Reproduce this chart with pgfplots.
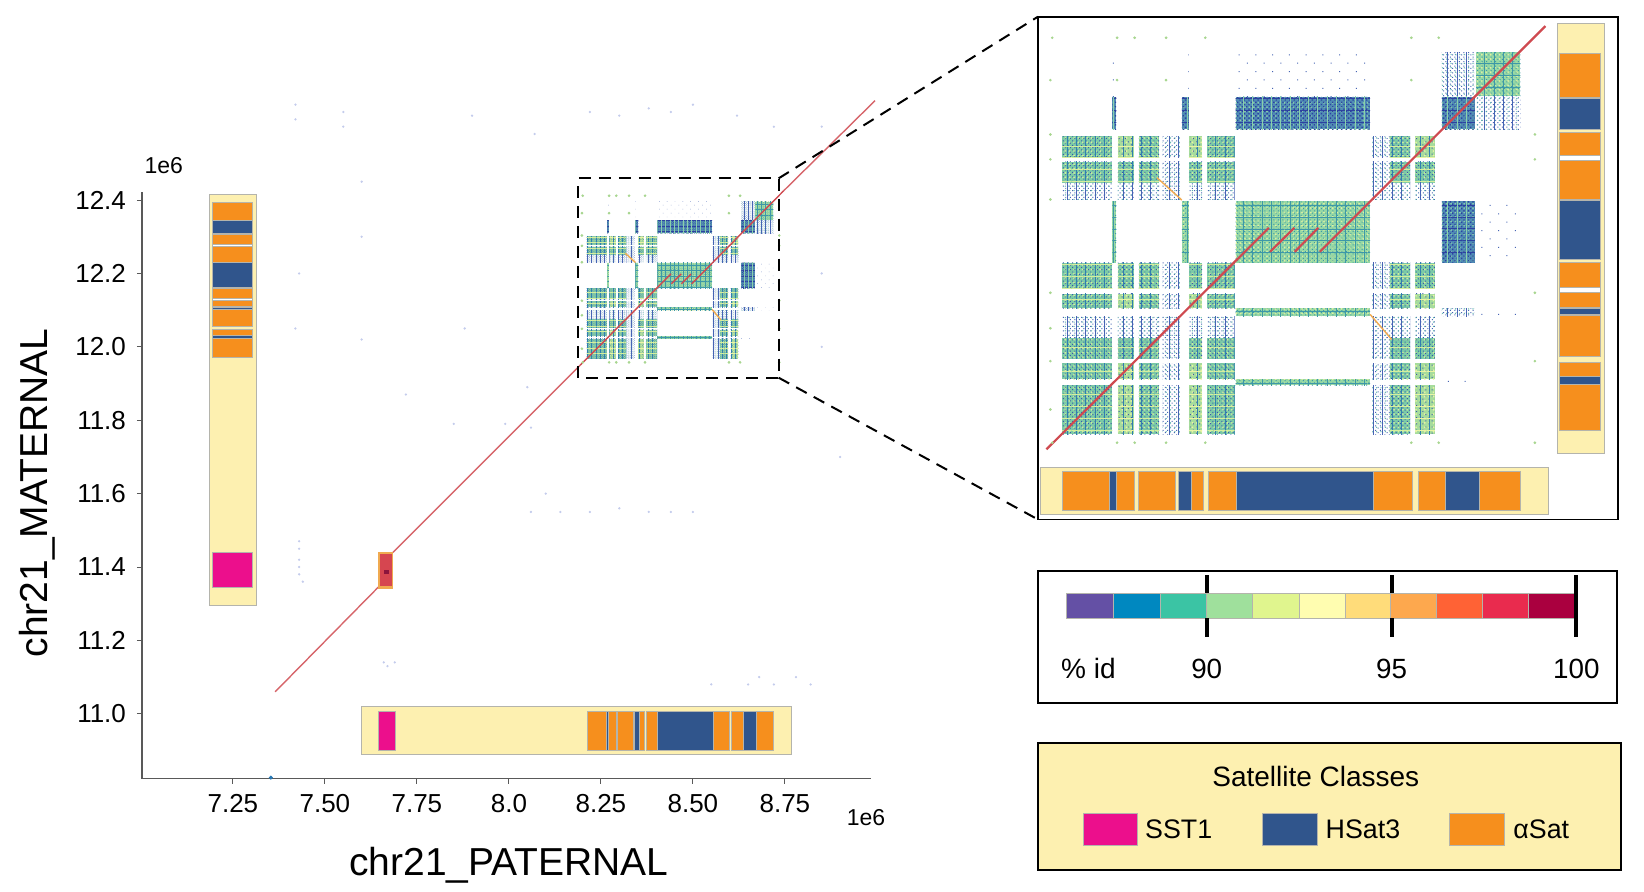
\documentclass[border=0pt]{standalone}
\usepackage{fontspec}
\setmainfont{Liberation Sans}
\usepackage{pgfplots}
\pgfplotsset{compat=1.18}
\usetikzlibrary{patterns.meta}
\definecolor{bgY}{HTML}{FDF0B0}
\definecolor{orC}{HTML}{F68F1D}
\definecolor{blC}{HTML}{30558C}
\definecolor{piC}{HTML}{EC0F8C}
\definecolor{edC}{HTML}{B4B4AC}
\definecolor{diagC}{HTML}{CF4A50}
\definecolor{faintC}{HTML}{C4CCEC}
\definecolor{hitC}{HTML}{A8D690}
\definecolor{offC}{HTML}{F0AA50}
\definecolor{tA}{HTML}{7CCBA6}\definecolor{tAl}{HTML}{D6EE9E}\definecolor{tAd}{HTML}{3A58AC}\definecolor{tAs}{HTML}{2F7FB0}
\definecolor{tY}{HTML}{A6DC9C}\definecolor{tYl}{HTML}{EAF4A4}
\definecolor{tH}{HTML}{4F8CB4}\definecolor{tHl}{HTML}{8AD0AC}\definecolor{tHd}{HTML}{2D41A0}
\definecolor{tG}{HTML}{96D8A4}\definecolor{tGl}{HTML}{E4F2A0}\definecolor{tGd}{HTML}{3D98A8}
\definecolor{tS}{HTML}{4664B4}\definecolor{tSg}{HTML}{5AB4AA}
\newcommand\fs[1]{\fontsize{#1}{#1}\selectfont}
\newcommand\Sg[5]{\addplot[fill=#5,draw=edC,line width=0.35pt] coordinates{(#1,#3)(#2,#3)(#2,#4)(#1,#4)} --cycle;}
\newcommand\T[5]{%
\addplot[#51] coordinates{(#1,#3)(#2,#3)(#2,#4)(#1,#4)} --cycle;%
\addplot[#52] coordinates{(#1,#3)(#2,#3)(#2,#4)(#1,#4)} --cycle;%
\addplot[#53] coordinates{(#1,#3)(#2,#3)(#2,#4)(#1,#4)} --cycle;%
\addplot[#54] coordinates{(#1,#3)(#2,#3)(#2,#4)(#1,#4)} --cycle;%
\addplot[#55] coordinates{(#1,#3)(#2,#3)(#2,#4)(#1,#4)} --cycle;}
\newcommand\setk[1]{%
\pgfmathsetmacro\dA{#1}\pgfmathsetmacro\dB{#1*1.37}\pgfmathsetmacro\dC{#1*0.30}\pgfmathsetmacro\dD{#1*0.22}%
\pgfmathsetmacro\dE{#1*2.9}\pgfmathsetmacro\dF{#1*3.7}\pgfmathsetmacro\dG{#1*0.22}\pgfmathsetmacro\dH{#1*0.32}%
\tikzset{
a1/.style={draw=none,fill=tA},
a2/.style={draw=none,pattern={Dots[distance=\dB pt,radius=\dC pt]},pattern color=tAl},
a3/.style={draw=none,pattern={Dots[distance=\dA pt,radius=\dD pt,angle=45]},pattern color=tAd},
a4/.style={draw=none,pattern={Lines[distance=\dE pt,angle=90,line width=\dG pt]},pattern color=tAs},
a5/.style={draw=none,pattern={Lines[distance=\dF pt,angle=0,line width=\dH pt]},pattern color=tAl},
y1/.style={draw=none,fill=tY},
y2/.style={draw=none,pattern={Dots[distance=\dB pt,radius=\dC pt]},pattern color=tYl},
y3/.style={draw=none,pattern={Dots[distance=\dB pt,radius=\dD pt,angle=45]},pattern color=tAd},
y4/.style={draw=none,pattern={Lines[distance=\dE pt,angle=90,line width=\dG pt]},pattern color=tAs},
y5/.style={draw=none,pattern={Lines[distance=\dF pt,angle=0,line width=\dH pt]},pattern color=tYl},
s1/.style={draw=none,fill=white},
s2/.style={draw=none,pattern={Dots[distance=\dA pt,radius=\dD pt,angle=45]},pattern color=tS},
s3/.style={draw=none,pattern={Dots[distance=\dB pt,radius=\dD pt]},pattern color=tSg},
s4/.style={draw=none,pattern={Lines[distance=\dE pt,angle=90,line width=\dG pt]},pattern color=tS},
s5/.style={draw=none,fill=none},
h1/.style={draw=none,fill=tH},
h2/.style={draw=none,pattern={Dots[distance=\dB pt,radius=\dC pt]},pattern color=tHl},
h3/.style={draw=none,pattern={Dots[distance=\dA pt,radius=\dC pt,angle=45]},pattern color=tHd},
h4/.style={draw=none,pattern={Lines[distance=\dF pt,angle=0,line width=\dH pt]},pattern color=tHd},
h5/.style={draw=none,pattern={Lines[distance=\dE pt,angle=90,line width=\dG pt]},pattern color=tHl},
g1/.style={draw=none,fill=tG},
g2/.style={draw=none,pattern={Dots[distance=\dB pt,radius=\dC pt]},pattern color=tGl},
g3/.style={draw=none,pattern={Dots[distance=\dA pt,radius=\dD pt,angle=45]},pattern color=tGd},
g4/.style={draw=none,pattern={Lines[distance=\dE pt,angle=90,line width=\dG pt]},pattern color=tGd},
g5/.style={draw=none,pattern={Lines[distance=\dF pt,angle=0,line width=\dG pt]},pattern color=tGd},
v1/.style={draw=none,fill=white},
v2/.style={draw=none,pattern={Dots[distance=\dF pt,radius=\dD pt,angle=45]},pattern color=tS},
v3/.style={draw=none,fill=none},
v4/.style={draw=none,fill=none},
v5/.style={draw=none,fill=none},
}}
\newcommand\Rw[4]{%
\T{8.2115}{8.2671}{#1}{#2}{#3}\T{8.2731}{8.2905}{#1}{#2}{#4}\T{8.2962}{8.3192}{#1}{#2}{#3}\T{8.3222}{8.3417}{#1}{#2}{s}%
\T{8.3517}{8.3665}{#1}{#2}{#4}\T{8.3721}{8.4025}{#1}{#2}{#3}\T{8.5544}{8.5740}{#1}{#2}{s}\T{8.5740}{8.5966}{#1}{#2}{#3}\T{8.6022}{8.6239}{#1}{#2}{#4}}
\newcommand\Blocks{%
\Rw{12.2780}{12.3015}{a}{y}\Rw{12.2492}{12.2727}{a}{a}\Rw{12.2305}{12.2492}{s}{s}\Rw{12.1303}{12.1595}{a}{a}\Rw{12.1083}{12.1247}{a}{y}%
\Rw{12.0754}{12.0997}{s}{s}\Rw{12.0518}{12.0754}{a}{a}\Rw{12.0287}{12.0466}{a}{y}\Rw{11.9670}{12.0219}{a}{y}%
\T{8.4034}{8.5523}{12.3456}{12.3957}{v}\T{8.4034}{8.5523}{12.3090}{12.3456}{h}\T{8.4034}{8.5523}{12.1595}{12.2286}{g}%
\T{8.4034}{8.5523}{12.0997}{12.1083}{g}\T{8.4034}{8.5523}{12.0219}{12.0287}{g}%
\T{8.2671}{8.2714}{12.3090}{12.3456}{h}\T{8.3439}{8.3517}{12.3090}{12.3456}{h}%
\T{8.2671}{8.2714}{12.1595}{12.2286}{g}\T{8.3439}{8.3517}{12.1595}{12.2286}{g}%
\T{8.2671}{8.2714}{12.3456}{12.3957}{v}\T{8.3439}{8.3517}{12.3456}{12.3957}{v}%
\T{8.6317}{8.6682}{12.3456}{12.3957}{s}\T{8.6317}{8.6682}{12.3090}{12.3456}{h}\T{8.6317}{8.6682}{12.1595}{12.2286}{h}%
\T{8.6317}{8.6682}{12.0997}{12.1083}{s}\T{8.6317}{8.6682}{12.0219}{12.0287}{v}%
\T{8.6695}{8.7185}{12.3464}{12.3957}{g}\T{8.6695}{8.7185}{12.3090}{12.3456}{s}\T{8.6695}{8.7185}{12.1595}{12.2286}{v}%
\T{8.6695}{8.7185}{12.0997}{12.1083}{v}%
\addplot[only marks,mark=*,mark size=0.45pt,color=hitC] coordinates{
(8.2006,12.4118)(8.2723,12.4118)(8.2918,12.4118)(8.3265,12.4118)(8.3699,12.4118)(8.5979,12.4118)(8.6282,12.4118)
(8.2006,11.9577)(8.2723,11.9577)(8.2918,11.9577)(8.3265,11.9577)(8.3699,11.9577)(8.5979,11.9577)(8.6282,11.9577)(8.7346,11.9577)
(8.1985,12.3643)(8.2723,12.3643)(8.3265,12.3643)(8.5979,12.3643)(8.7346,12.3034)(8.7346,12.2754)(8.7346,12.1258)(8.7346,12.0492)
(8.1985,12.3034)(8.1985,12.2754)(8.1985,12.2305)(8.1985,12.1258)(8.1985,12.0860)(8.1985,12.0492)(8.1985,11.9950)};
\addplot[line width=0.7pt,color=offC] coordinates{(8.3166,12.2548)(8.3439,12.2298)};
\addplot[line width=0.7pt,color=offC] coordinates{(8.5523,12.1016)(8.5761,12.0735)};
}
\newcommand\Diag[1]{%
\addplot[line width=#1,color=diagC] coordinates{(8.1941,11.9502)(8.4403,12.1987)};
\addplot[line width=#1,color=diagC] coordinates{(8.4416,12.1718)(8.4685,12.1987)};
\addplot[line width=#1,color=diagC] coordinates{(8.4689,12.1718)(8.4950,12.1987)};
\addplot[line width=#1,color=diagC] coordinates{(8.4967,12.1718)(8.7463,12.4249)};}
\newcommand\VB[2]{%
\Sg{#1}{#2}{12.345}{12.394}{orC}\Sg{#1}{#2}{12.309}{12.344}{blC}\Sg{#1}{#2}{12.280}{12.306}{orC}\Sg{#1}{#2}{12.274}{12.280}{white}%
\Sg{#1}{#2}{12.231}{12.274}{orC}\Sg{#1}{#2}{12.163}{12.229}{blC}\Sg{#1}{#2}{12.132}{12.160}{orC}\Sg{#1}{#2}{12.126}{12.132}{white}%
\Sg{#1}{#2}{12.109}{12.126}{orC}\Sg{#1}{#2}{12.102}{12.108}{blC}\Sg{#1}{#2}{12.055}{12.101}{orC}%
\Sg{#1}{#2}{12.032}{12.048}{orC}\Sg{#1}{#2}{12.023}{12.032}{blC}\Sg{#1}{#2}{11.971}{12.023}{orC}}
\newcommand\HB[2]{%
\Sg{8.212}{8.264}{#1}{#2}{orC}\Sg{8.264}{8.271}{#1}{#2}{blC}\Sg{8.271}{8.291}{#1}{#2}{orC}%
\Sg{8.296}{8.337}{#1}{#2}{orC}\Sg{8.340}{8.355}{#1}{#2}{blC}\Sg{8.355}{8.368}{#1}{#2}{orC}%
\Sg{8.3735}{8.4047}{#1}{#2}{orC}\Sg{8.4047}{8.556}{#1}{#2}{blC}\Sg{8.556}{8.599}{#1}{#2}{orC}%
\Sg{8.6055}{8.636}{#1}{#2}{orC}\Sg{8.636}{8.673}{#1}{#2}{blC}\Sg{8.673}{8.718}{#1}{#2}{orC}}
\begin{document}
\begin{tikzpicture}[x=0.5pt,y=0.5pt]
\path (0,0) rectangle (1644,892);
\setk{0.75}
\begin{axis}[
  at={(71pt,56.7pt)},anchor=south west,scale only axis,width=364.45pt,height=293.3pt,
  xmin=7.003,xmax=8.9837,ymin=10.8234,ymax=12.422,clip=false,
  axis x line=bottom,axis y line=left,axis line style={-,color=black!65,line width=0.7pt},
  xtick={7.25,7.5,7.75,8.0,8.25,8.5,8.75},xticklabels={7.25,7.50,7.75,8.0,8.25,8.50,8.75},
  ytick={11,11.2,11.4,11.6,11.8,12,12.2,12.4},yticklabels={11.0,11.2,11.4,11.6,11.8,12.0,12.2,12.4},
  tick style={color=black!65,line width=0.5pt},tick align=outside,major tick length=2.5pt,
  tick label style={font=\fs{13}},
  xticklabel style={yshift=-2pt},yticklabel style={xshift=-2pt},
]
\addplot[only marks,mark=*,mark size=0.35pt,color=faintC] coordinates{
(7.42,12.66)(7.42,12.62)(7.55,12.64)(7.55,12.60)(7.90,12.63)(8.07,12.58)(8.22,12.64)(8.30,12.63)(8.38,12.65)(8.44,12.64)(8.50,12.66)(8.62,12.63)(8.72,12.60)(8.85,12.60)
(7.43,11.47)(7.43,11.45)(7.43,11.42)(7.43,11.40)(7.43,11.38)(7.44,11.36)(7.43,12.20)(7.42,12.05)(7.88,12.05)(8.05,11.89)(7.85,11.79)(7.99,11.79)(8.06,11.78)(8.10,11.60)
(7.69,11.14)(7.66,11.14)(7.67,11.13)(8.68,11.10)(8.78,11.10)(8.82,11.08)(8.72,11.08)(8.55,11.08)(8.65,11.08)
(8.06,11.55)(8.14,11.55)(8.22,11.55)(8.30,11.56)(8.38,11.55)(8.44,11.55)(8.50,11.55)(8.85,11.85)(8.85,12.00)(8.85,12.20)(7.72,11.87)(7.60,12.02)(7.60,12.30)(7.60,12.45)(8.90,11.70)};
\addplot[only marks,mark=*,mark size=0.8pt,color={rgb,255:red,40;green,120;blue,180}] coordinates{(7.353,10.826)};
\Blocks
\addplot[line width=0.7pt,color=diagC!85] coordinates{(7.365,11.06)(7.645,11.345)};
\addplot[line width=0.7pt,color=diagC!85] coordinates{(7.685,11.44)(8.1941,11.9502)};
\addplot[line width=0.7pt,color=diagC!85] coordinates{(8.7463,12.4249)(8.995,12.671)};
\Diag{0.7pt}
\addplot[draw=none,fill={rgb,255:red,240;green,170;blue,80}] coordinates{(7.645,11.341)(7.685,11.341)(7.685,11.441)(7.645,11.441)} --cycle;
\addplot[draw=none,fill={rgb,255:red,214;green,70;blue,80}] coordinates{(7.649,11.348)(7.681,11.348)(7.681,11.436)(7.649,11.436)} --cycle;
\addplot[draw=none,fill={rgb,255:red,140;green,20;blue,60}] coordinates{(7.661,11.380)(7.673,11.380)(7.673,11.392)(7.661,11.392)} --cycle;
\Sg{7.1862}{7.3125}{11.295}{12.416}{bgY}
\VB{7.1943}{7.3025}
\Sg{7.1943}{7.3025}{11.344}{11.441}{piC}
\Sg{7.598}{8.768}{10.890}{11.019}{bgY}
\HB{10.899}{11.008}
\Sg{7.6455}{7.692}{10.899}{11.008}{piC}
\end{axis}
\setk{1.6}
\begin{axis}[
  at={(518.9pt,186.3pt)},anchor=south west,scale only axis,width=290.1pt,height=251.3pt,
  xmin=8.1846,xmax=8.8266,ymin=11.8717,ymax=12.4353,
  xtick=\empty,ytick=\empty,axis line style={color=black,line width=0.8pt},
]
\Blocks
\Diag{1.1pt}
\Sg{8.7590}{8.8110}{11.9457}{12.4278}{bgY}
\VB{8.7620}{8.8068}
\Sg{8.1875}{8.7500}{11.8773}{11.9296}{bgY}
\HB{11.8818}{11.9259}
\end{axis}
\begin{axis}[
  at={(518.9pt,94.5pt)},anchor=south west,scale only axis,width=289.6pt,height=66.1pt,
  xmin=85.43,xmax=101.1,ymin=0,ymax=100,clip=false,
  xtick=\empty,ytick=\empty,axis line style={color=black,line width=0.8pt},
]
\Sg{86.2}{87.47}{64}{83.25}{{rgb,255:red,100;green,80;blue,165}}
\Sg{87.47}{88.74}{64}{83.25}{{rgb,255:red,0;green,136;blue,192}}
\Sg{88.74}{90}{64}{83.25}{{rgb,255:red,59;green,196;blue,164}}
\Sg{90}{91.23}{64}{83.25}{{rgb,255:red,159;green,224;blue,156}}
\Sg{91.23}{92.5}{64}{83.25}{{rgb,255:red,224;green,245;blue,142}}
\Sg{92.5}{93.74}{64}{83.25}{{rgb,255:red,255;green,253;blue,176}}
\Sg{93.74}{94.97}{64}{83.25}{{rgb,255:red,255;green,220;blue,122}}
\Sg{94.97}{96.2}{64}{83.25}{{rgb,255:red,253;green,168;blue,78}}
\Sg{96.2}{97.47}{64}{83.25}{{rgb,255:red,255;green,98;blue,53}}
\Sg{97.47}{98.7}{64}{83.25}{{rgb,255:red,233;green,43;blue,78}}
\Sg{98.7}{100}{64}{83.25}{{rgb,255:red,170;green,0;blue,63}}
\addplot[black,line width=2pt] coordinates{(90,50)(90,64)};
\addplot[black,line width=2pt] coordinates{(90,83.25)(90,97)};
\addplot[black,line width=2pt] coordinates{(95,50)(95,64)};
\addplot[black,line width=2pt] coordinates{(95,83.25)(95,97)};
\addplot[black,line width=2pt] coordinates{(100,50)(100,97)};
\node[font=\fs{13.9}] at (axis cs:90,25.75) {90};
\node[font=\fs{13.9}] at (axis cs:95,25.75) {95};
\node[font=\fs{13.9}] at (axis cs:100,25.75) {100};
\node[font=\fs{14}] at (axis cs:86.8,25.75) {\% id};
\end{axis}
\draw[black,line width=1pt,dash pattern=on 6pt off 4pt] (578.2,514.3) rectangle (778.6,713.6);
\draw[black,line width=1pt,dash pattern=on 6pt off 4pt] (778.6,713.6) -- (1037.8,875.2);
\draw[black,line width=1pt,dash pattern=on 6pt off 4pt] (778.6,514.3) -- (1037.8,372.6);
\node[font=\fs{19.5}] at (508.9,26.4) {chr21\_PATERNAL};
\node[font=\fs{19.5},rotate=90] at (37,399) {chr21\_MATERNAL};
\node[font=\fs{11.5}] at (163.7,726) {1e6};
\node[font=\fs{11.5}] at (866,74.6) {1e6};
\fill[bgY,draw=black,line width=0.8pt] (1037.8,22.1) rectangle (1621.2,149.1);
\node[font=\fs{14}] at (1315.8,115.5) {Satellite Classes};
\fill[piC,draw=edC,line width=0.35pt] (1082.9,46.3) rectangle (1137.5,78.8);
\fill[blC,draw=edC,line width=0.35pt] (1262.3,46.3) rectangle (1316.9,78.8);
\fill[orC,draw=edC,line width=0.35pt] (1449,46.3) rectangle (1504.7,78.8);
\node[font=\fs{13.4},anchor=west,inner sep=0pt] at (1144.8,63) {SST1};
\node[font=\fs{13.4},anchor=west,inner sep=0pt] at (1325.3,63) {HSat3};
\node[font=\fs{13.4},anchor=west,inner sep=0pt] at (1513,63) {αSat};
\end{tikzpicture}
\end{document}
